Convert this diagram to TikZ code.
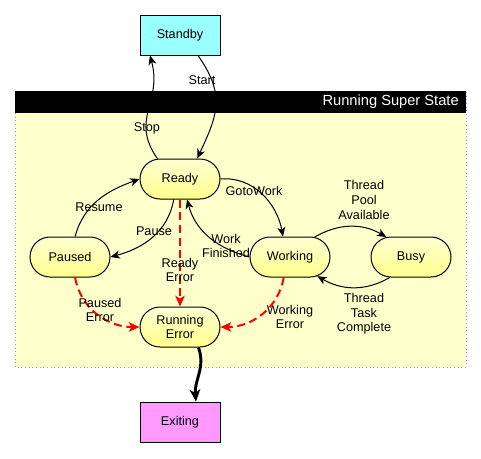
\documentclass[tikz,border=0pt]{standalone}
\usepackage{fontspec}
\setmainfont{Liberation Sans}
\usetikzlibrary{shapes.misc,arrows.meta}
\definecolor{cyanbox}{RGB}{153,255,255}
\definecolor{pinkbox}{RGB}{255,153,255}
\definecolor{superbg}{RGB}{255,255,204}
\definecolor{statetop}{RGB}{255,255,210}
\definecolor{statebot}{RGB}{255,255,140}
\definecolor{frameblue}{RGB}{150,150,190}
\tikzset{
  px/.style={x=0.75pt,y=-0.75pt},
  txt/.style={font=\fontsize{9.5}{11}\selectfont,align=center,inner sep=0pt},
  statebox/.style={rounded rectangle,draw,line width=0.75pt,top color=statetop,bottom color=statebot,
    minimum width=60pt,minimum height=30pt,inner sep=0pt,txt},
  plainbox/.style={rectangle,draw,line width=0.75pt,minimum width=60pt,minimum height=30pt,inner sep=0pt,txt},
  trans/.style={draw,line width=0.75pt,-{Stealth[length=7pt,width=6pt,inset=2pt]}},
  errtrans/.style={draw=red,line width=1.5pt,dash pattern=on 6pt off 3.5pt,-{Stealth[length=8pt,width=7pt,inset=2pt]}},
  exittrans/.style={draw,line width=2.2pt,-{Stealth[length=9pt,width=8pt,inset=2.5pt]}},
  lbl/.style={txt}
}
\begin{document}
\begin{tikzpicture}[px]
\useasboundingbox (0,0) rectangle (481,458);
% super state
\fill[superbg] (15,91) rectangle (466,367);
\draw[frameblue,dotted,line width=0.75pt] (15,91) rectangle (466,367);
\fill[black] (15,91) rectangle (466,113);
\node[anchor=east,text=white,font=\fontsize{11}{13}\selectfont,inner sep=0pt] (title) at (459,102) {Running Super State};
% states
\node[plainbox,fill=cyanbox] (standby) at (180,35) {Standby};
\node[statebox] (ready) at (180,179) {Ready};
\node[statebox] (paused) at (70,257) {Paused};
\node[statebox] (working) at (290,257) {Working};
\node[statebox] (busy) at (411,257) {Busy};
\node[statebox] (rerr) at (180,327) {Running\\Error};
\node[plainbox,fill=pinkbox] (exiting) at (180,422) {Exiting};
% transitions
\draw[trans] (ready.138) to[out=125,in=-75,looseness=1.2] ([xshift=-22.5pt]standby.south);
\draw[trans] ([xshift=13.5pt]standby.south) to[out=-55,in=65,looseness=1.2] (ready.50);
\draw[trans] (ready.east) to[out=5,in=100] (working.109);
\draw[trans] (working.west) to[out=165,in=-75] (ready.-71);
\draw[trans] (paused.76) to[out=75,in=200] (ready.west);
\draw[trans] (ready.-107) to[out=-100,in=15] (paused.east);
\draw[trans] (working.39) to[out=30,in=150] (busy.141);
\draw[trans] (busy.-136) to[out=-150,in=-30] (working.-35);
\draw[errtrans] (ready.south) -- (rerr.north);
\draw[errtrans] (paused.-76) to[out=-80,in=180] (rerr.west);
\draw[errtrans] (working.-107) to[out=-100,in=0] (rerr.east);
\draw[exittrans] (rerr.-48) to[out=-70,in=95] ([xshift=12pt]exiting.north);
% labels
\node[lbl] (lstop) at (147,128) {Stop};
\node[lbl] (lstart) at (202,80) {Start};
\node[lbl] (lgoto) at (254,191) {GotoWork};
\node[lbl] (lwork) at (226,246) {Work\\Finished};
\node[lbl] (lresume) at (99,207) {Resume};
\node[lbl] (lpause) at (154,231) {Pause};
\node[lbl] (lpool) at (364,200) {Thread\\Pool\\Available};
\node[lbl] (ltask) at (364,314) {Thread\\Task\\Complete};
\node[lbl] (lready) at (180,270) {Ready\\Error};
\node[lbl] (lpaused) at (100,310) {Paused\\Error};
\node[lbl] (lworking) at (290,317) {Working\\Error};
\end{tikzpicture}
\end{document}
